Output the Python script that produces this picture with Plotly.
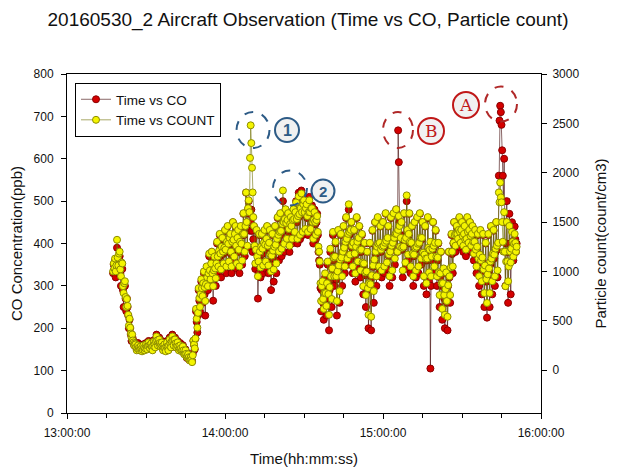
import pandas as pd
import plotly.graph_objects as go

# ---------------- data (15 s sampling from 13:17:30) ----------------
start_time = "2016-05-30 13:17:30"
sample_step = "15s"

co_ppb = [
    330, 350,
    340, 360, 320, 345,  390, 360, 330, 370,  370, 330, 300, 350,  340, 290, 250, 300,   # 18-21
    300, 270, 240, 270,  250, 230, 200, 220,  200, 185, 170, 180,  175, 168, 160, 165,   # 22-25
    165, 158, 150, 156,  165, 157, 150, 155,  160, 154, 148, 152,  162, 156, 150, 155,   # 26-29
    165, 158, 152, 160,  170, 162, 155, 162,  168, 158, 150, 160,  172, 165, 158, 170,   # 30-33
    185, 175, 160, 170,  178, 168, 158, 165,  170, 160, 150, 158,  165, 155, 148, 158,   # 34-37
    170, 160, 150, 162,  178, 165, 155, 170,  185, 172, 160, 175,  178, 165, 155, 162,   # 38-41
    170, 160, 150, 156,  165, 155, 148, 152,  160, 150, 140, 145,  150, 140, 130, 135,   # 42-45
    140, 132, 125, 128,  132, 126, 122, 140,  170, 160, 150, 175,  240, 215, 190, 230,   # 46-49
    290, 265, 240, 275,  310, 285, 260, 300,  330, 280, 230, 290,  340, 310, 290, 320,   # 50-53
    370, 330, 300, 350,  380, 320, 265, 330,  360, 330, 300, 345,  400, 365, 330, 380,   # 54-57
    420, 370, 320, 390,  410, 375, 340, 390,  430, 380, 330, 400,  440, 395, 350, 410,   # 58-61
    420, 375, 330, 400,  450, 405, 360, 420,  440, 390, 340, 410,  430, 380, 330, 400,   # 62-65
    440, 395, 350, 420,  470, 420, 370, 440,  520, 450, 390, 480,  500, 470, 430, 450,   # 66-69
    480, 430, 380, 410,  440, 390, 340, 380,  430, 350, 270, 330,  420, 370, 320, 380,   # 70-73
    420, 375, 330, 390,  430, 385, 340, 400,  440, 385, 330, 390,  430, 360, 290, 350,   # 74-77
    420, 365, 310, 380,  440, 385, 330, 400,  460, 410, 360, 420,  470, 420, 370, 440,   # 78-81
    500, 440, 380, 450,  480, 440, 400, 450,  470, 425, 380, 440,  460, 430, 400, 450,   # 82-85
    480, 450, 420, 470,  500, 450, 400, 460,  520, 465, 410, 480,  525, 470, 420, 490,   # 86-89
    510, 470, 430, 480,  500, 460, 420, 470,  510, 470, 430, 480,  490, 445, 400, 450,   # 90-93
    480, 445, 410, 450,  470, 420, 380, 360,  350, 295, 240, 290,  300, 260, 220, 270,   # 94-97
    320, 275, 230, 300,  350, 270, 195, 290,  380, 315, 250, 340,  420, 360, 300, 370,   # 98-101
    400, 315, 230, 330,  430, 345, 260, 360,  420, 360, 300, 380,  440, 385, 330, 400,   # 102-105
    460, 405, 350, 420,  480, 420, 360, 430,  450, 390, 330, 400,  430, 370, 310, 390,   # 106-109
    460, 400, 340, 410,  440, 380, 320, 380,  420, 350, 280, 350,  400, 325, 250, 330,   # 110-113
    380, 290, 200, 300,  400, 300, 195, 320,  430, 345, 260, 360,  450, 375, 300, 390,   # 114-117
    460, 395, 330, 400,  440, 380, 320, 390,  450, 390, 330, 400,  470, 405, 340, 410,   # 118-121
    440, 370, 300, 380,  460, 390, 320, 400,  470, 410, 350, 420,  480, 420, 380, 667,   # 122-125
    592, 450, 390, 420,  450, 385, 320, 390,  470, 405, 340, 410,  500, 430, 360, 420,   # 126-129
    470, 400, 330, 400,  440, 370, 300, 370,  450, 385, 320, 390,  460, 395, 330, 400,   # 130-133
    470, 410, 350, 410,  450, 375, 300, 370,  440, 360, 280, 360,  460, 385, 310, 380,   # 134-137
    105, 300, 360, 380,  450, 390, 330, 400,  430, 365, 300, 360,  400, 325, 250, 320,   # 138-141
    380, 300, 220, 300,  340, 270, 200, 280,  330, 260, 195, 300,  380, 320, 260, 340,   # 142-145
    420, 375, 330, 400,  450, 415, 380, 420,  440, 420, 400, 430,  460, 425, 390, 430,   # 146-149
    450, 415, 380, 420,  440, 405, 370, 410,  460, 425, 390, 430,  450, 415, 380, 420,   # 150-153
    440, 400, 360, 400,  430, 380, 330, 390,  420, 360, 300, 370,  430, 355, 280, 360,   # 154-157
    420, 335, 250, 340,  400, 310, 225, 320,  420, 335, 250, 350,  440, 360, 280, 370,   # 158-161
    430, 365, 300, 380,  450, 385, 320, 400,  560, 690, 725, 710,  680, 620, 560, 500,   # 162-165
    600, 450, 300, 400,  500, 380, 260, 350,  470, 400, 280, 380,  450, 405, 360, 400,   # 166-169
    440, 410, 380, 400,                                                                   # 170
]

particle_count = [
    1000, 1080,
    1030, 1130, 1000, 1060,  1320, 1140, 1060, 1180,  1200, 1020, 950, 1090,  1080, 850, 780, 880,   # 18-21
    900, 740, 640, 720,  650, 560, 450, 520,  430, 370, 330, 360,  300, 280, 250, 270,               # 22-25
    260, 230, 200, 220,  250, 225, 200, 215,  240, 215, 190, 205,  250, 225, 200, 220,               # 26-29
    260, 235, 210, 245,  280, 250, 220, 250,  270, 235, 200, 245,  290, 260, 230, 290,               # 30-33
    340, 300, 250, 280,  310, 275, 240, 260,  280, 240, 200, 230,  260, 225, 190, 240,               # 34-37
    280, 240, 200, 250,  310, 270, 230, 290,  340, 300, 250, 310,  310, 270, 230, 250,               # 38-41
    280, 240, 200, 220,  250, 220, 190, 200,  240, 200, 160, 170,  200, 165, 130, 140,               # 42-45
    160, 130, 100, 110,  130, 105, 80, 150,  300, 260, 220, 320,  620, 520, 430, 580,                # 46-49
    830, 730, 640, 770,  920, 830, 750, 880,  1000, 840, 700, 870,  1050, 940, 850, 980,             # 50-53
    1180, 1010, 920, 1080,  1200, 980, 850, 1010,  1150, 1030, 930, 1080,  1300, 1150, 1050, 1210,   # 54-57
    1380, 1180, 1020, 1250,  1340, 1200, 1080, 1240,  1420, 1220, 1050, 1300,  1460, 1280, 1100, 1340,   # 58-61
    1380, 1200, 1050, 1300,  1500, 1320, 1150, 1380,  1460, 1260, 1080, 1340,  1420, 1220, 1050, 1300,   # 62-65
    1460, 1280, 1110, 1380,  1590, 1380, 1200, 1460,  1800, 1500, 1260, 1640,  1720, 1600, 2150, 2480,   # 66-69
    2300, 2050, 1800, 1550,  1460, 1260, 1080, 1220,  1420, 1150, 950, 1100,  1380, 1200, 1040, 1250,    # 70-73
    1380, 1230, 1060, 1290,  1420, 1270, 1100, 1330,  1460, 1260, 1060, 1290,  1420, 1170, 1000, 1160,   # 74-77
    1380, 1210, 1020, 1250,  1460, 1270, 1080, 1330,  1550, 1370, 1200, 1400,  1590, 1410, 1230, 1480,   # 78-81
    1820, 1500, 1280, 1530,  1630, 1490, 1330, 1520,  1590, 1430, 1260, 1480,  1550, 1460, 1330, 1520,   # 82-85
    1630, 1530, 1400, 1600,  1700, 1530, 1330, 1560,  1760, 1580, 1370, 1640,  1790, 1600, 1400, 1680,   # 86-89
    1720, 1600, 1430, 1640,  1680, 1560, 1400, 1600,  1720, 1600, 1430, 1640,  1640, 1500, 1330, 1520,   # 90-93
    1600, 1500, 1370, 1520,  1560, 1400, 1250, 1200,  1100, 880, 700, 850,  900, 720, 620, 780,          # 94-97
    980, 780, 650, 880,  1100, 770, 560, 840,  1230, 950, 720, 1030,  1400, 1140, 950, 1150,             # 98-101
    1300, 950, 700, 1000,  1420, 1060, 800, 1120,  1380, 1140, 950, 1200,  1460, 1240, 1050, 1300,       # 102-105
    1550, 1330, 1130, 1380,  1680, 1400, 1170, 1420,  1500, 1260, 1050, 1290,  1420, 1180, 980, 1250,    # 106-109
    1550, 1300, 1100, 1340,  1460, 1220, 1010, 1220,  1380, 1090, 850, 1080,  1290, 990, 760, 1000,      # 110-113
    1200, 830, 560, 880,  1290, 870, 540, 960,  1420, 1060, 800, 1120,  1500, 1200, 950, 1250,           # 114-117
    1550, 1280, 1050, 1290,  1460, 1220, 1010, 1250,  1500, 1260, 1050, 1290,  1590, 1310, 1090, 1340,   # 118-121
    1460, 1170, 950, 1200,  1550, 1260, 1010, 1290,  1590, 1340, 1130, 1380,  1630, 1380, 1200, 1420,    # 122-125
    1560, 1460, 1250, 1340,  1500, 1240, 1010, 1250,  1590, 1320, 1090, 1340,  1770, 1420, 1170, 1380,   # 126-129
    1590, 1300, 1050, 1290,  1460, 1180, 950, 1170,  1500, 1240, 1010, 1250,  1550, 1280, 1050, 1290,    # 130-133
    1590, 1340, 1130, 1340,  1500, 1190, 950, 1170,  1460, 1130, 880, 1130,  1550, 1240, 990, 1220,      # 134-137
    1300, 950, 1150, 1230,  1500, 1260, 1050, 1290,  1420, 1150, 950, 1140,  1290, 990, 760, 980,        # 138-141
    1200, 880, 620, 880,  1030, 760, 560, 820,  990, 700, 540, 860,  1200, 950, 760, 1040,               # 142-145
    1380, 1200, 1050, 1290,  1500, 1370, 1260, 1380,  1460, 1380, 1330, 1420,  1550, 1400, 1290, 1420,   # 146-149
    1500, 1360, 1260, 1380,  1460, 1320, 1220, 1330,  1550, 1400, 1290, 1420,  1500, 1360, 1260, 1380,   # 150-153
    1460, 1300, 1180, 1300,  1420, 1220, 1050, 1250,  1380, 1130, 950, 1170,  1420, 1110, 900, 1140,     # 154-157
    1380, 1020, 780, 1060,  1290, 920, 680, 970,  1380, 1030, 780, 1100,  1460, 1130, 900, 1180,         # 158-161
    1420, 1170, 950, 1230,  1500, 1260, 1010, 1290,  1800, 1700, 1900, 1750,  1700, 1500, 1300, 1200,    # 162-165
    1600, 1200, 850, 1100,  1500, 1100, 900, 1050,  1460, 1200, 1090, 1230,  1400, 1300, 1150, 1280,     # 166-169
    1380, 1290, 1200, 1250,                                                                              # 170
]

assert len(co_ppb) == len(particle_count), (len(co_ppb), len(particle_count))
times = pd.date_range(start_time, periods=len(co_ppb), freq=sample_step)

x_range = ["2016-05-30 13:00:00", "2016-05-30 16:00:00"]
x_ticks = ["2016-05-30 13:00:00", "2016-05-30 14:00:00", "2016-05-30 15:00:00", "2016-05-30 16:00:00"]
x_ticktext = ["13:00:00", "14:00:00", "15:00:00", "16:00:00"]
co_ticks = [0, 100, 200, 300, 400, 500, 600, 700, 800]
count_ticks = [0, 500, 1000, 1500, 2000, 2500, 3000]

FONT = "Arial, 'Liberation Sans', sans-serif"

fig = go.Figure()
fig.add_trace(go.Scatter(
    x=times, y=co_ppb, name="Time vs CO", mode="lines+markers",
    line=dict(color="#3a0000", width=0.6),
    marker=dict(size=7, color="#d40000", line=dict(color="#8a0000", width=1)),
    yaxis="y"))
fig.add_trace(go.Scatter(
    x=times, y=particle_count, name="Time vs COUNT", mode="lines+markers",
    line=dict(color="#6e6e00", width=0.6),
    marker=dict(size=7, color="#f4f400", line=dict(color="#8c8c00", width=1)),
    yaxis="y2"))

# The page body has an 8px margin; the figure is sized so the plot frame lands at
# x 67..541, y 74..413 of the 617x475 window.
OFF = 8
W, H = 609, 467
L, R, T, B = 67, 541, 74, 413   # page pixel positions of the plot frame


def px(x):
    return (x - L) / (R - L)


def py(y):
    return (B - y) / (B - T)


shapes = []
annos = []


def dashed(cx, cy, rx, ry, color):
    shapes.append(dict(type="circle", xref="paper", yref="paper",
                       x0=px(cx - rx), x1=px(cx + rx), y0=py(cy + ry), y1=py(cy - ry),
                       line=dict(color=color, width=2, dash="dash")))


def badge(cx, cy, r, text, color, fam, size):
    shapes.append(dict(type="circle", xref="paper", yref="paper",
                       x0=px(cx - r), x1=px(cx + r), y0=py(cy + r), y1=py(cy - r),
                       fillcolor="#f1f1f1", line=dict(color=color, width=2)))
    annos.append(dict(x=px(cx), y=py(cy), xref="paper", yref="paper", text=text,
                      showarrow=False, xanchor="center", yanchor="middle",
                      font=dict(family=fam, size=size, color=color)))


blue = "#2d5b86"
red = "#c01818"
dashed(253, 130, 16.5, 18, blue)
dashed(290, 188, 17, 17.5, blue)
dashed(398, 130, 15, 18, "#b02828")
dashed(501, 104, 16, 17.5, "#b02828")
badge(287, 130, 12, "<b>1</b>", blue, FONT, 16)
badge(323, 191, 11.5, "<b>2</b>", blue, FONT, 15)
badge(431, 131, 13, "B", red, "'DejaVu Serif', serif", 17)
badge(466, 105, 13, "A", red, "'DejaVu Serif', serif", 17)

fig.update_layout(
    width=W, height=H,
    margin=dict(l=L - OFF, r=OFF + W - R, t=T - OFF, b=OFF + H - B, autoexpand=False),
    paper_bgcolor="white", plot_bgcolor="white",
    font=dict(family=FONT, size=12, color="#111"),
    title=dict(text="20160530_2 Aircraft Observation (Time vs CO, Particle count)",
               x=(308 - OFF) / W, xanchor="center", xref="container",
               y=1 - (19 - OFF) / H, yanchor="middle", yref="container",
               font=dict(size=19, color="#111")),
    xaxis=dict(type="date", range=x_range, tickvals=x_ticks, ticktext=x_ticktext,
               showline=True, linecolor="black", linewidth=1, mirror=True,
               ticks="outside", ticklen=5, tickcolor="black", showgrid=False, zeroline=False,
               minor=dict(dtick=15 * 60 * 1000, ticks="outside", ticklen=4, tickcolor="black", showgrid=False),
               ticklabelstandoff=4, automargin=False,
               title=dict(text="Time(hh:mm:ss)", font=dict(size=15), standoff=14),
               tickfont=dict(size=12)),
    yaxis=dict(range=[0, 800], tickvals=co_ticks, showline=True, linecolor="black", linewidth=1,
               ticks="outside", ticklen=5, tickcolor="black", showgrid=False, zeroline=False,
               ticklabelstandoff=5, automargin=False,
               title=dict(text="CO Concentration(ppb)", font=dict(size=15), standoff=10),
               tickfont=dict(size=12)),
    yaxis2=dict(range=[-435, 3000], tickvals=count_ticks, overlaying="y", side="right",
                showline=True, linecolor="black", linewidth=1,
                ticks="outside", ticklen=5, tickcolor="black", showgrid=False, zeroline=False,
                ticklabelstandoff=3, automargin=False,
                title=dict(text="Particle count(count/cm3)", font=dict(size=15), standoff=17),
                tickfont=dict(size=12)),
    legend=dict(x=px(75), y=py(83), xanchor="left", yanchor="top",
                bgcolor="white", bordercolor="black", borderwidth=1,
                font=dict(size=13.5), tracegroupgap=0, itemwidth=30),
    showlegend=True,
    shapes=shapes, annotations=annos,
)

fig.write_html("out.html")
